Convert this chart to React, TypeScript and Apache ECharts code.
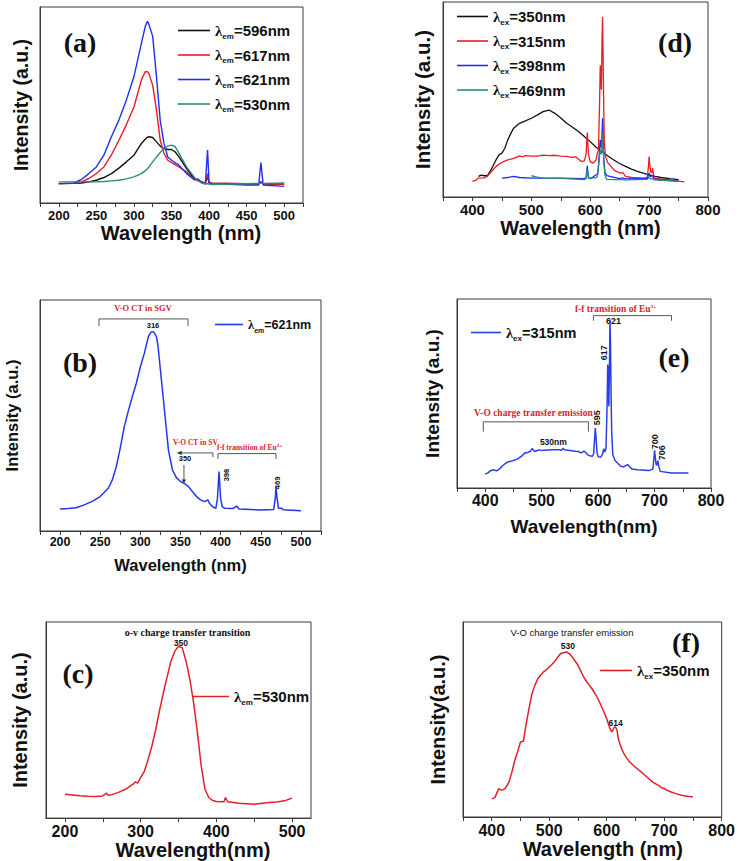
import React, { useEffect, useRef } from 'react';
import * as echarts from 'echarts';

// ---------- Panel (a): excitation spectra, common wavelength grid ----------
const aWavelength = [200, 220, 230, 240, 250, 260, 270, 280, 290, 300, 310, 315, 318, 320, 325, 330, 335, 340, 345, 350, 355, 360, 370, 380, 385, 390, 395, 398, 400, 405, 420, 450, 466, 469, 472, 500];
const aEm596 = [9.9, 10, 10.2, 10.8, 11.6, 13, 15, 17.8, 21, 24.4, 30.4, 32.5, 33.6, 33.8, 33.4, 31.2, 29, 27.8, 27.3, 27.3, 26, 23.5, 17.6, 12.5, 11.5, 10.7, 10.3, 13.3, 10.5, 10, 10, 9.8, 9.8, 10.5, 9.8, 9.6];
const aEm617 = [9.9, 10, 10.8, 12.5, 15, 18.4, 24.5, 32, 40, 49, 62.8, 67, 67, 66, 60, 47.4, 32, 25.3, 21.8, 20.6, 19.5, 18.4, 15.9, 12, 11.5, 10.5, 10, 15, 10.2, 10, 10, 9.8, 9.8, 11, 9.8, 9.6];
const aEm621 = [9.9, 10.2, 12, 15, 18.4, 24.4, 33.8, 42.3, 52.6, 64.5, 81.6, 90, 92.7, 91, 85, 64.5, 42, 30.4, 23.5, 21.8, 20.5, 19.3, 15, 12, 12.3, 10.7, 9.6, 27, 10, 9.4, 9.7, 9.2, 9.2, 20.6, 9.2, 8.5];
const aEm530 = [10.8, 10.8, 10.8, 10.8, 10.8, 11, 11.3, 11.6, 12.3, 13.3, 15, 16.5, 17.5, 18.4, 21, 23.5, 25.8, 27.8, 29, 29.5, 28.7, 25.3, 18.4, 13.3, 11.5, 10.2, 9.8, 9.8, 9.6, 9.6, 9.6, 9.8, 10, 10, 10, 10.2];

// ---------- Panel (b): excitation, λem = 621 nm ----------
const bEm621: [number, number][] = [[200, 9.5], [210, 9.7], [220, 10.1], [230, 11.3], [240, 12.8], [250, 14.9], [260, 18.5], [265, 22], [270, 27.8], [275, 36], [280, 45.2], [285, 52], [290, 58.2], [295, 64], [300, 71.1], [305, 77], [310, 84.1], [313, 86], [316, 86.3], [318, 85.5], [320, 84.1], [322, 80], [325, 69.7], [330, 52.4], [335, 35], [340, 26.4], [345, 23], [350, 21.4], [355, 20.5], [360, 19.2], [365, 17], [370, 14.9], [375, 13.5], [380, 12.7], [384, 13.5], [386, 12], [390, 10.5], [394, 9.8], [396, 14], [398, 25.7], [400, 14], [402, 10.5], [405, 9.8], [415, 9.7], [420, 10.8], [423, 9.5], [450, 9.1], [466, 9.3], [468, 14], [469, 19.2], [470, 15], [472, 9.8], [476, 9.8], [478, 9.2], [500, 8.8]];

// ---------- Panel (c): excitation, λem = 530 nm ----------
const cEm530: [number, number][] = [[200, 12.2], [210, 11.8], [220, 11.4], [230, 11.1], [240, 11], [250, 11.3], [255, 12.7], [257, 11.6], [260, 11.7], [270, 13], [280, 14.7], [290, 17.3], [293, 18.5], [296, 17.8], [300, 20.7], [305, 24], [310, 30], [315, 37], [320, 45.3], [325, 55], [330, 63.9], [335, 72], [340, 80], [345, 85], [350, 87.6], [355, 86.8], [360, 80], [365, 70.7], [370, 58.8], [375, 43.6], [380, 26.6], [385, 14.7], [390, 10.5], [395, 9], [400, 8.5], [410, 8.3], [412, 10.5], [415, 8.3], [430, 7.6], [450, 7.1], [470, 8], [480, 8.2], [490, 8.8], [500, 10.2]];

// ---------- Panel (d): emission spectra ----------
const dEx350: [number, number][] = [[410, 10.6], [415, 11.2], [420, 10.9], [425, 10.9], [430, 13.1], [435, 16], [440, 19], [445, 21.5], [450, 22.5], [455, 25], [460, 29.3], [465, 32.5], [470, 35.3], [480, 37.8], [490, 39], [500, 40.4], [510, 42], [520, 43.8], [530, 44.6], [540, 42.9], [550, 40.5], [560, 37.8], [570, 35.8], [580, 33.6], [590, 31], [600, 28.4], [610, 25.5], [620, 23.3], [630, 21], [640, 19], [650, 17.2], [660, 15.7], [670, 14.3], [680, 13.1], [690, 12.2], [700, 11.4], [710, 10.6], [720, 10], [735, 9.4], [750, 8.9]];
const dEx315: [number, number][] = [[400, 8], [405, 8.5], [410, 9.7], [420, 9.8], [425, 10.5], [430, 12.3], [435, 14], [440, 15.7], [450, 17.8], [460, 19], [470, 19.8], [480, 21.1], [485, 20.6], [490, 21.2], [500, 21], [510, 21], [520, 21.5], [530, 21.2], [540, 21.4], [550, 21], [560, 20.8], [570, 20.3], [575, 20.6], [580, 19.5], [585, 18.2], [590, 18.5], [593, 22], [595, 33], [597, 22], [600, 18], [605, 17.4], [610, 19], [612, 22.5], [614, 24], [616, 50], [617, 67.6], [618, 60], [619, 55], [620, 80], [621, 92.3], [622, 70], [623, 45], [624, 28], [626, 20.8], [630, 17.5], [640, 14], [645, 13], [652, 12.3], [655, 12.6], [660, 10.6], [670, 10], [690, 9.7], [697, 10], [699, 16], [700, 20.8], [701, 17], [703, 12.5], [705, 13], [706, 14.8], [707, 12], [710, 9.5], [730, 8.9], [760, 7.8]];
const dEx398: [number, number][] = [[450, 9.7], [460, 10], [470, 10.6], [480, 10], [500, 9.7], [550, 9.7], [590, 9.4], [593, 10], [595, 16], [597, 10], [600, 9.4], [610, 11.4], [613, 12], [615, 20.8], [617, 29.3], [619, 25], [621, 40.4], [622, 30], [623, 20], [625, 13], [628, 11], [650, 9.4], [655, 9.8], [660, 9.3], [697, 9.5], [700, 12.3], [702, 10.5], [706, 11], [708, 9.3], [750, 8]];
const dEx469: [number, number][] = [[500, 10.9], [510, 10.2], [520, 9.7], [550, 9.5], [590, 8.9], [593, 9.5], [595, 14], [597, 9.5], [610, 10], [612, 10.5], [615, 18], [617, 24.2], [619, 22], [621, 32.7], [622, 25], [623, 18], [625, 11], [628, 9], [660, 8.8], [697, 9], [700, 10.3], [702, 9.2], [706, 9.5], [708, 8.8], [750, 8]];

// ---------- Panel (e): emission, λex = 315 nm ----------
const eEx315: [number, number][] = [[400, 7.4], [405, 8], [410, 9.3], [415, 9.6], [420, 9.1], [425, 10], [430, 11.5], [435, 12.8], [440, 13.8], [445, 14.1], [450, 14.6], [455, 15], [460, 15.9], [465, 17], [470, 18.5], [475, 18.8], [480, 19.4], [483, 20.8], [485, 20.3], [488, 19.3], [490, 19.6], [495, 20.2], [500, 19.9], [510, 20.1], [520, 20.3], [530, 20.3], [535, 20], [538, 21], [540, 20.3], [550, 19.9], [560, 19.4], [565, 19.3], [570, 18.6], [575, 19.5], [578, 18.8], [582, 17.5], [585, 17.1], [590, 16.8], [592, 18], [594, 27], [595, 31.7], [596, 28], [598, 19], [600, 16.5], [605, 16.4], [608, 18], [610, 20.8], [612, 19], [614, 21], [616, 45], [617, 65.3], [618, 62], [619, 43.2], [620, 60], [621, 89], [622, 75], [623, 50], [624, 30], [626, 17.6], [630, 14.5], [640, 11.5], [645, 11.2], [650, 12], [653, 12.3], [656, 11.2], [660, 10], [670, 9.6], [690, 9.2], [697, 10], [699, 16], [700, 19.9], [701, 17], [703, 12], [705, 13], [706, 14.5], [707, 12], [710, 8.8], [730, 7.9], [760, 7.9]];

// ---------- Panel (f): emission, λex = 350 nm ----------
const fEx350: [number, number][] = [[400, 9.4], [405, 9.8], [410, 13], [412, 14.5], [415, 14], [418, 13.8], [422, 14.3], [425, 15.4], [430, 17.9], [435, 23], [440, 29], [445, 33.5], [450, 38.5], [455, 38.8], [460, 47.9], [465, 56], [470, 63.2], [475, 67.5], [480, 70.9], [485, 72.8], [490, 74.4], [495, 75.5], [500, 76.9], [505, 78.3], [510, 80], [515, 82], [520, 83.8], [525, 84.2], [530, 84.6], [535, 83.8], [540, 82.1], [545, 80], [550, 77.8], [555, 74.8], [560, 71.8], [565, 69.5], [570, 67.5], [575, 65.5], [580, 63.2], [585, 60.5], [590, 57.3], [595, 54], [600, 50.4], [605, 46], [608, 43.9], [610, 44], [612, 45.5], [614, 46.2], [616, 45.8], [618, 44.5], [620, 40.5], [622, 38.5], [626, 35], [630, 32.5], [635, 30.2], [640, 28.2], [650, 25.5], [660, 23.1], [670, 20.5], [680, 17.9], [690, 16.2], [698, 14.6], [700, 14.8], [702, 14.2], [710, 13.1], [720, 12], [730, 11.2], [740, 10.6], [750, 10.3]];

// ---------- Tick values ----------
const ticksUV = [175, 200, 225, 250, 275, 300, 325, 350, 375, 400, 425, 450, 475, 500, 525];
const labelsUV50 = [200, 250, 300, 350, 400, 450, 500];
const ticksUV50 = [200, 250, 300, 350, 400, 450, 500];
const labelsUV100 = [200, 300, 400, 500];
const ticksVis = [350, 400, 450, 500, 550, 600, 650, 700, 750, 800];
const labelsVis = [400, 500, 600, 700, 800];

// ---------- Annotations (data coordinates) ----------
const redNotes = [
  { g: 2, x: 303.3, y: 96.5, text: 'V-O CT in SGV', size: 8.5 },
  { g: 2, x: 368.5, y: 38.3, text: 'V-O CT in SV', size: 7.5 },
  { g: 2, x: 436, y: 36.2, text: 'f-f transition of Eu{sup|3+}', size: 7.5 },
  { g: 3, x: 630.7, y: 94.9, text: 'f-f transition of Eu{sup|3+}', size: 9.5 },
  { g: 3, x: 485.3, y: 39.5, text: 'V-O charge transfer emission', size: 9.5 },
];
const peakNotes = [
  { g: 2, x: 315.7, y: 89, text: '316', size: 7.5, rot: false },
  { g: 2, x: 355.6, y: 31.2, text: '350', size: 7.5, rot: false },
  { g: 2, x: 407.9, y: 24.2, text: '398', size: 7.5, rot: true },
  { g: 2, x: 471.4, y: 20.8, text: '469', size: 7.5, rot: true },
  { g: 3, x: 627.1, y: 88.5, text: '621', size: 9, rot: false },
  { g: 3, x: 611.2, y: 71.6, text: '617', size: 9, rot: true },
  { g: 3, x: 598.8, y: 37.2, text: '595', size: 9, rot: true },
  { g: 3, x: 520.7, y: 24.5, text: '530nm', size: 8.5, rot: false },
  { g: 3, x: 700, y: 24.5, text: '700', size: 9, rot: true },
  { g: 3, x: 714, y: 18.7, text: '706', size: 9, rot: true },
  { g: 4, x: 353, y: 89.3, text: '350', size: 8.5, rot: false },
  { g: 5, x: 532.6, y: 87.7, text: '530', size: 8.5, rot: false },
  { g: 5, x: 615.5, y: 48.2, text: '614', size: 8.5, rot: false },
];
const brackets = [
  { g: 2, pts: [[248.5, 88.7], [248.5, 91.8], [359.3, 91.8], [359.3, 88.7]] },
  { g: 2, pts: [[348, 33.8], [390.4, 33.8], [390.4, 32]] },
  { g: 2, pts: [[396.7, 31.2], [396.7, 33.5], [468.9, 33.5], [468.9, 31.2]] },
  { g: 2, pts: [[354.3, 28.6], [354.3, 22]] },
  { g: 3, pts: [[591.7, 88.5], [591.7, 91.2], [730, 91.2], [730, 88.5]] },
  { g: 3, pts: [[396.6, 29.8], [396.6, 35], [582.8, 35], [582.8, 29.8]] },
];

const SANS = '"Liberation Sans", Arial, Helvetica, sans-serif';
const SERIF = '"Liberation Serif", "Times New Roman", serif';
const AXIS = '#3a3a3a';
const INK = '#111111';

const legendRich = (size: number) => ({
  l: { fontFamily: SERIF, fontSize: size, fontWeight: 'bold', color: INK, lineHeight: 20 },
  s: { fontFamily: SANS, fontSize: Math.round(size * 0.55), fontWeight: 'bold', color: INK, verticalAlign: 'bottom', lineHeight: 12 },
  n: { fontFamily: SANS, fontSize: size, fontWeight: 'bold', color: INK, lineHeight: 20 },
});

const legendLabel: Record<string, string> = {
  'a λem=596nm': '{l|λ}{s|em}{n|=596nm}',
  'a λem=617nm': '{l|λ}{s|em}{n|=617nm}',
  'a λem=621nm': '{l|λ}{s|em}{n|=621nm}',
  'a λem=530nm': '{l|λ}{s|em}{n|=530nm}',
  'b λem=621nm': '{l|λ}{s|em}{n|=621nm}',
  'c λem=530nm': '{l|λ}{s|em}{n|=530nm}',
  'd λex=350nm': '{l|λ}{s|ex}{n|=350nm}',
  'd λex=315nm': '{l|λ}{s|ex}{n|=315nm}',
  'd λex=398nm': '{l|λ}{s|ex}{n|=398nm}',
  'd λex=469nm': '{l|λ}{s|ex}{n|=469nm}',
  'e λex=315nm': '{l|λ}{s|ex}{n|=315nm}',
  'f λex=350nm': '{l|λ}{s|ex}{n|=350nm}',
};

export default function App() {
  const ref = useRef<HTMLDivElement>(null);

  useEffect(() => {
    if (!ref.current) return;
    const chart = echarts.init(ref.current, null, { renderer: 'svg' });

    const grids = [
      { left: 40, top: 7, width: 263, height: 196 }, // a
      { left: 443, top: 2, width: 265, height: 195 }, // d
      { left: 40, top: 300, width: 281, height: 231 }, // b
      { left: 457, top: 299, width: 254, height: 189 }, // e
      { left: 46, top: 622, width: 265, height: 197 }, // c
      { left: 463, top: 622, width: 261, height: 195 }, // f
    ].map((g) => ({ ...g, show: true, borderColor: AXIS, borderWidth: 1, backgroundColor: 'transparent', containLabel: false }));

    const xAxis = (
      i: number, min: number, max: number, ticks: number[], labels: number[],
      labelSize: number, margin: number, name: string, nameSize: number, nameGap: number, padLeft: number,
    ) => ({
      type: 'value', gridIndex: i, min, max,
      axisLine: { show: true, onZero: false, lineStyle: { color: AXIS, width: 1 } },
      axisTick: { show: true, inside: false, length: 4, customValues: ticks, lineStyle: { color: AXIS, width: 1 } },
      axisLabel: { show: true, customValues: labels, fontSize: labelSize, fontWeight: 'bold', fontFamily: SANS, color: INK, margin },
      splitLine: { show: false },
      name, nameLocation: 'middle', nameGap,
      nameTextStyle: { fontSize: nameSize, fontWeight: 'bold', fontFamily: SANS, color: INK, padding: [0, 0, 0, padLeft] },
    });
    const yAxis = (i: number, name: string, nameSize: number, nameGap: number) => ({
      type: 'value', gridIndex: i, min: 0, max: 100,
      axisLine: { show: true, lineStyle: { color: AXIS, width: 1 } },
      axisTick: { show: false }, axisLabel: { show: false }, splitLine: { show: false },
      name, nameLocation: 'middle', nameGap, nameRotate: 90,
      nameTextStyle: { fontSize: nameSize, fontWeight: 'bold', fontFamily: SANS, color: INK },
    });

    const line = (name: string, i: number, data: number[][], color: string, width = 1.4) => ({
      type: 'line', name, xAxisIndex: i, yAxisIndex: i, data, symbol: 'none', showSymbol: false,
      lineStyle: { color, width }, itemStyle: { color }, silent: true,
    });
    const zip = (xs: number[], ys: number[]) => xs.map((x, k) => [x, ys[k]]);

    const BLACK = '#111111';
    const RED = '#ec1c24';
    const BLUE = '#1f2ff2';
    const GREEN = '#2b8c78';

    const legend = (names: string[], left: number, top: number, itemWidth: number, size: number, gap = 7) => ({
      data: names, orient: 'vertical', left, top, itemWidth, itemHeight: 1.6, itemGap: gap, padding: 0,
      icon: 'rect', selectedMode: false,
      formatter: (n: string) => legendLabel[n] || n,
      textStyle: { color: INK, rich: legendRich(size) },
    });

    chart.setOption({
      animation: false,
      backgroundColor: '#ffffff',
      grid: grids,
      xAxis: [
        xAxis(0, 175, 525, ticksUV, labelsUV50, 13, 6, 'Wavelength (nm)', 20, 18, 19),
        xAxis(1, 350, 800, ticksVis, labelsVis, 15, 5, 'Wavelength (nm)', 20, 17, 10),
        xAxis(2, 175, 525, ticksUV, labelsUV50, 12.5, 4, 'Wavelength (nm)', 16.5, 25, 0),
        xAxis(3, 350, 800, ticksVis, labelsVis, 16, 4, 'Wavelength(nm)', 19, 29, 0),
        xAxis(4, 175, 525, ticksUV50, labelsUV100, 16, 5, 'Wavelength(nm)', 20, 18, 29),
        xAxis(5, 350, 800, ticksVis, labelsVis, 16, 5, 'Wavelength (nm)', 20, 21, 21),
      ],
      yAxis: [
        yAxis(0, 'Intensity (a.u.)', 19.5, 9),
        yAxis(1, 'Intensity (a.u.)', 20.5, 10),
        yAxis(2, 'Intensity (a.u.)', 16.5, 20),
        yAxis(3, 'Intensity (a.u.)', 19, 15),
        yAxis(4, 'Intensity (a.u.)', 20, 16),
        yAxis(5, 'Intensity(a.u.)', 20, 15),
      ],
      legend: [
        legend(['a λem=596nm', 'a λem=617nm', 'a λem=621nm', 'a λem=530nm'], 178, 23, 32, 15, 7),
        legend(['d λex=350nm', 'd λex=315nm', 'd λex=398nm', 'd λex=469nm'], 457, 9, 31, 15, 7),
        legend(['b λem=621nm'], 215, 318, 28, 12.5),
        legend(['e λex=315nm'], 471, 325, 30, 14.5),
        legend(['c λem=530nm'], 193, 689, 36, 15),
        legend(['f λex=350nm'], 600, 663, 32, 15),
      ],
      series: [
        line('a λem=596nm', 0, zip(aWavelength, aEm596), BLACK),
        line('a λem=617nm', 0, zip(aWavelength, aEm617), RED),
        line('a λem=621nm', 0, zip(aWavelength, aEm621), BLUE),
        line('a λem=530nm', 0, zip(aWavelength, aEm530), GREEN),
        line('d λex=350nm', 1, dEx350, BLACK, 1.3),
        line('d λex=315nm', 1, dEx315, RED, 1.3),
        line('d λex=398nm', 1, dEx398, BLUE, 1.3),
        line('d λex=469nm', 1, dEx469, GREEN, 1.3),
        line('b λem=621nm', 2, bEm621, '#2336ec', 1.5),
        line('e λex=315nm', 3, eEx315, '#2a3ee8', 1.5),
        line('c λem=530nm', 4, cEm530, '#e3202a', 1.5),
        line('f λex=350nm', 5, fEx350, '#e3202a', 1.5),
      ],
    });

    const px = (g: number, x: number, y: number) => chart.convertToPixel({ gridIndex: g } as any, [x, y]) as number[];
    const graphics: any[] = [];

    const panelLabels = [
      { t: '(a)', x: 80, y: 42 }, { t: '(d)', x: 675, y: 42 },
      { t: '(b)', x: 80, y: 362 }, { t: '(e)', x: 674, y: 357 },
      { t: '(c)', x: 78, y: 673 }, { t: '(f)', x: 686, y: 642 },
    ];
    panelLabels.forEach((p) => graphics.push({
      type: 'text', x: p.x, y: p.y, silent: true,
      style: { text: p.t, fontFamily: SERIF, fontWeight: 'bold', fontSize: 28, fill: INK, align: 'center', verticalAlign: 'middle' },
    }));

    redNotes.forEach((n) => {
      const [x, y] = px(n.g, n.x, n.y);
      graphics.push({
        type: 'text', x, y, silent: true,
        style: {
          text: n.text, fontFamily: SERIF, fontWeight: 'bold', fontSize: n.size, fill: '#d8232f',
          align: 'center', verticalAlign: 'middle',
          rich: { sup: { fontFamily: SERIF, fontWeight: 'bold', fontSize: 5, fill: '#d8232f', verticalAlign: 'top' } },
        },
      });
    });

    peakNotes.forEach((n) => {
      const [x, y] = px(n.g, n.x, n.y);
      graphics.push({
        type: 'text', x, y, rotation: n.rot ? Math.PI / 2 : 0, silent: true,
        style: { text: n.text, fontFamily: SANS, fontWeight: 'bold', fontSize: n.size, fill: INK, align: 'center', verticalAlign: 'middle' },
      });
    });

    // centre captions
    {
      const [x1, y1] = px(4, 362, 94.4);
      graphics.push({ type: 'text', x: x1, y: y1, silent: true, style: { text: 'o-v charge transfer transition', fontFamily: SERIF, fontWeight: 'bold', fontSize: 10, fill: INK, align: 'center', verticalAlign: 'middle' } });
      const [x2, y2] = px(5, 539.5, 94.4);
      graphics.push({ type: 'text', x: x2, y: y2, silent: true, style: { text: 'V-O charge transfer emission', fontFamily: SANS, fontSize: 9.5, fill: INK, align: 'center', verticalAlign: 'middle' } });
    }

    brackets.forEach((b) => {
      graphics.push({
        type: 'polyline', silent: true,
        shape: { points: b.pts.map((p) => px(b.g, p[0], p[1])) },
        style: { stroke: '#555555', lineWidth: 1, fill: null },
      });
    });
    // arrow heads (b): left-pointing on the SV bracket, down-pointing at 350
    {
      const [ax, ay] = px(2, 346.5, 33.8);
      graphics.push({ type: 'polygon', silent: true, shape: { points: [[ax - 1, ay], [ax + 4, ay - 2.2], [ax + 4, ay + 2.2]] }, style: { fill: '#333333' } });
      const [bx, by] = px(2, 354.3, 20.6);
      graphics.push({ type: 'polygon', silent: true, shape: { points: [[bx, by], [bx - 2.2, by - 4], [bx + 2.2, by - 4]] }, style: { fill: '#333333' } });
    }

    chart.setOption({ graphic: graphics });

    return () => chart.dispose();
  }, []);

  return <div ref={ref} style={{ position: 'absolute', left: 0, top: 0, width: 738, height: 861, background: '#fff' }} />;
}
